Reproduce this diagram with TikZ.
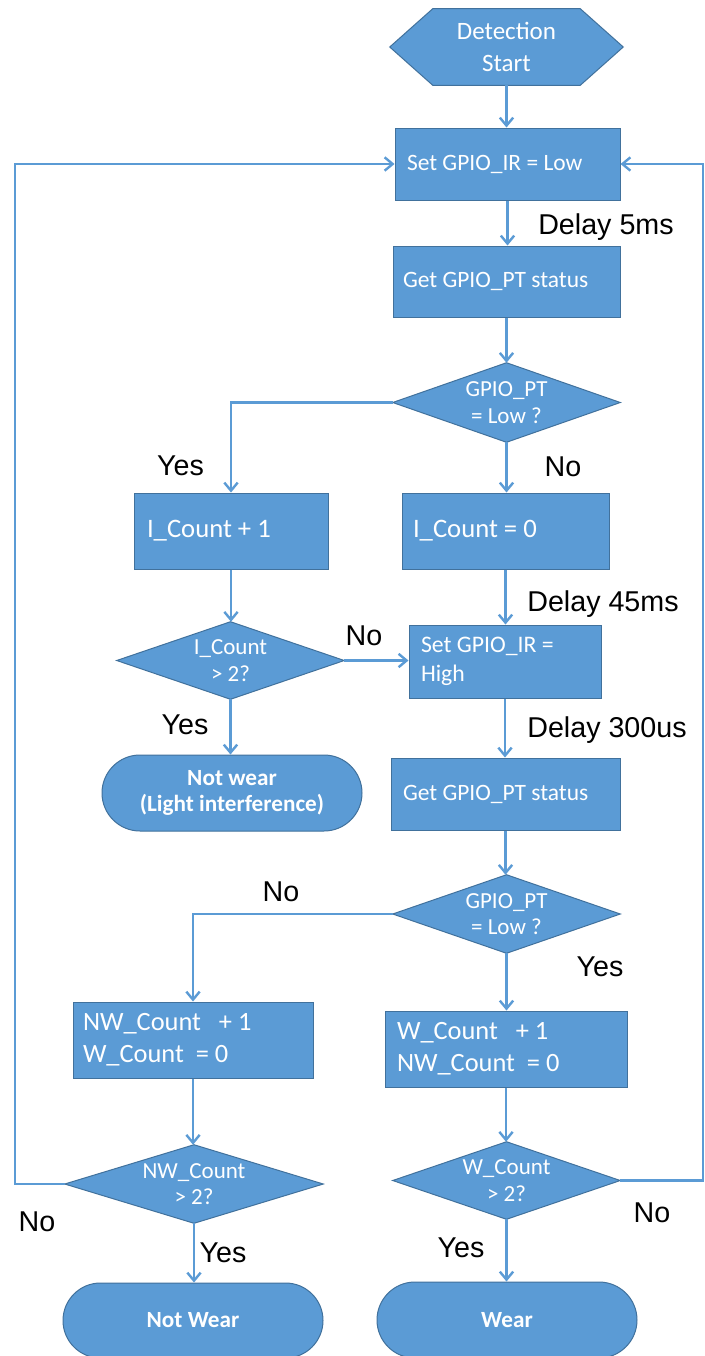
\documentclass[tikz,border=0pt]{standalone}
\usepackage{fontspec}
\setmainfont{Carlito}
\newfontfamily\labfont{Liberation Sans}
\usetikzlibrary{arrows.meta,shapes.misc,backgrounds,calc}
\definecolor{fil}{HTML}{5B9BD5}
\definecolor{bdr}{HTML}{41719C}
\begin{document}
\begin{tikzpicture}[x=0.75pt,y=-0.75pt,
 box/.style={rectangle,draw=bdr,fill=fil,line width=0.75pt,text=white,align=left,inner ysep=0pt,execute at begin node={\spaceskip=0pt\xspaceskip=0pt\relax}},
 hold/.style={rectangle,inner sep=0pt,text=white,align=center},
 term/.style={rounded rectangle,draw=bdr,fill=fil,line width=0.75pt,text=white,align=center,inner sep=0pt,font=\bfseries\fontsize{17.4}{20}\selectfont},
 arr/.style={draw=fil,line width=1.8pt,-{Straight Barb[length=6pt,width=10pt]}},
 lab/.style={font=\labfont\fontsize{21.5}{25}\selectfont,text=black,inner sep=0pt},
 shp/.style={fill=fil,draw=bdr,line width=0.75pt},
 fA/.style={font=\fontsize{17.6}{21}\selectfont},
 fD/.style={font=\fontsize{17.25}{20}\selectfont},
 fB/.style={font=\fontsize{20}{24}\selectfont},
 fC/.style={font=\fontsize{19.8}{24}\selectfont}]
\useasboundingbox (0,0) rectangle (705,1356);
% nodes
\node[hold,minimum width=174.75pt,minimum height=57pt,font=\fontsize{18.75}{23.8}\selectfont] (start) at (506.5,47) {Detection\\Start};
\node[box,fA,text width=150.75pt,inner xsep=9pt,minimum height=54pt] (b1) at (507.5,164) {Set GPIO\_IR = Low};
\node[box,fA,text width=155.25pt,inner xsep=7.5pt,minimum height=53.25pt] (b2) at (506.5,281.5) {Get GPIO\_PT status};
\node[hold,fD,minimum width=170.25pt,minimum height=59.25pt] (d1) at (506.5,402.5) {GPIO\_PT\\= Low ?};
\node[box,fB,text width=126pt,inner xsep=9.75pt,minimum height=57pt] (b3) at (231,531) {I\_Count + 1};
\node[box,fB,text width=138.75pt,inner xsep=8.25pt,minimum height=57pt] (b4) at (505.5,531) {I\_Count = 0};
\node[hold,fD,minimum width=170.25pt,minimum height=57.75pt] (d2) at (230.5,660.5) {I\_Count\\> 2?};
\node[box,text width=126pt,inner xsep=9pt,minimum height=54.75pt,font=\fontsize{17.8}{21.75}\selectfont] (b5) at (505,661.5) {Set GPIO\_IR =\\High};
\node[term,minimum width=195pt,minimum height=57pt] (t1) at (232,793) {Not wear\\(Light interference)};
\node[box,fA,text width=153.75pt,inner xsep=9pt,minimum height=54pt] (b6) at (505.5,794) {Get GPIO\_PT status};
\node[hold,fD,minimum width=170.25pt,minimum height=58.5pt] (d3) at (506.5,914) {GPIO\_PT\\= Low ?};
\node[box,fC,text width=165pt,inner xsep=7.5pt,minimum height=57pt] (b7) at (193,1040) {NW\_Count\ \ \ + 1\\W\_Count\ \ = 0};
\node[box,fC,text width=163.5pt,inner xsep=9pt,minimum height=57pt] (b8) at (506,1049) {W\_Count\ \ \ + 1\\NW\_Count\ \ = 0};
\node[hold,fD,minimum width=193.5pt,minimum height=58.5pt] (d4) at (194,1184) {NW\_Count\\> 2?};
\node[hold,fD,minimum width=170.25pt,minimum height=57.75pt] (d5) at (506.5,1180.5) {W\_Count\\> 2?};
\node[term,minimum width=195pt,minimum height=56.25pt] (t2) at (193,1320.5) {Not Wear};
\node[term,minimum width=195pt,minimum height=57pt] (t3) at (507,1320) {Wear};
% shapes behind
\begin{scope}[on background layer]
\fill[white] (0,0) rectangle (705,1356);
\path[shp] (start.west) -- ($(start.north west)+(43,0)$) -- ($(start.north east)+(-43,0)$) -- (start.east) -- ($(start.south east)+(-43,0)$) -- ($(start.south west)+(43,0)$) -- cycle;
\foreach \d in {d1,d2,d3,d4,d5} \path[shp] (\d.west) -- (\d.north) -- (\d.east) -- (\d.south) -- cycle;
\end{scope}
% loop coordinates
\coordinate (L) at (15,165);
\coordinate (R) at (703,1181);
% connectors
\draw[arr] (start.south) -- (start.south |- b1.north);
\draw[arr] (b1.south) -- (b1.south |- b2.north);
\draw[arr] (b2.south) -- (b2.south |- d1.north);
\draw[arr] (d1.west) -| (b3.north);
\draw[arr] (d1.south) -- (d1.south |- b4.north);
\draw[arr] (b3.south) -- (b3.south |- d2.north);
\draw[arr] (d2.east) -- (d2.east -| b5.west);
\draw[arr] (b4.south) -- (b4.south |- b5.north);
\draw[arr] (d2.south) -- (d2.south |- t1.north);
\draw[arr] (b5.south) -- (b5.south |- b6.north);
\draw[arr] (b6.south) -- (b6.south |- d3.north);
\draw[arr] (d3.west) -| (b7.north);
\draw[arr] (d3.south) -- (d3.south |- b8.north);
\draw[arr] (b7.south) -- (b7.south |- d4.north);
\draw[arr] (b8.south) -- (b8.south |- d5.north);
\draw[arr] (d4.south) -- (d4.south |- t2.north);
\draw[arr] (d5.south) -- (d5.south |- t3.north);
\draw[arr] (d4.west) -- (d4.west -| L) |- (b1.west);
\draw[arr] (d5.east) -- (d5.east -| R) |- (b1.east);
% labels
\node[lab] (l1) at (606,227) {Delay 5ms};
\node[lab] (l2) at (180.5,466) {Yes};
\node[lab] (l3) at (563,467) {No};
\node[lab] (l4) at (603,604) {Delay 45ms};
\node[lab] (l5) at (364,636) {No};
\node[lab] (l6) at (185,725) {Yes};
\node[lab] (l7) at (607,730) {Delay 300us};
\node[lab] (l8) at (281,892) {No};
\node[lab] (l9) at (600,967) {Yes};
\node[lab] (l10) at (37,1222) {No};
\node[lab] (l11) at (223,1253) {Yes};
\node[lab] (l12) at (461,1248) {Yes};
\node[lab] (l13) at (652,1213) {No};
\end{tikzpicture}
\end{document}
